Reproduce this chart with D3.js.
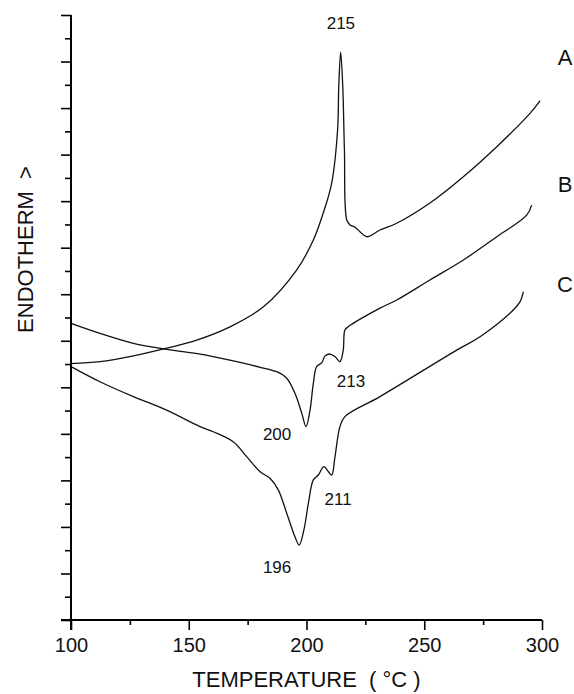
<!DOCTYPE html>
<html>
<head>
<meta charset="utf-8">
<script src="https://cdn.jsdelivr.net/npm/d3@7"></script>
<style>
  body { margin: 0; background: #fff; }
  svg { font-family: "Liberation Sans", Arial, sans-serif; }
</style>
</head>
<body>
<div id="chart"></div>
<script>
// Temperature (deg C) and heat flow (arbitrary units)
var tempA = [100, 112.3, 126.5, 140.6, 153.4, 167.5, 181.7, 195.8, 202.9, 207.1, 210.7, 213.2, 213.7, 214.5, 215.4, 216.1, 217.1, 218.5, 220.6, 222.7, 225.6, 231.2, 238.3, 252.4, 266.6, 280.8, 294.9, 299.2];
var flowA = [11.02, 11.10, 11.35, 11.68, 12.03, 12.60, 13.46, 15.04, 16.33, 17.49, 18.78, 21.06, 22.92, 24.40, 22.92, 20.2, 17.19, 16.98, 16.88, 16.69, 16.47, 16.76, 17.05, 17.92, 19.05, 20.34, 21.77, 22.32];

var tempB = [100, 112.3, 126.5, 140.6, 154.8, 160.4, 170.4, 180.3, 187.3, 191.6, 195.1, 198.0, 199.8, 201.5, 202.9, 204.3, 206.5, 207.9, 210.0, 212.1, 214.2, 215.6, 216.3, 217.7, 231.2, 238.3, 252.4, 266.6, 280.8, 293.5, 295.6];
var flowB = [12.75, 12.32, 11.89, 11.63, 11.43, 11.32, 11.10, 10.86, 10.67, 10.39, 9.74, 8.88, 8.31, 9.02, 10.17, 10.89, 11.06, 11.35, 11.43, 11.32, 11.10, 11.60, 12.46, 12.60, 13.40, 13.75, 14.61, 15.47, 16.47, 17.40, 17.83];

var tempC = [100, 112.3, 126.5, 140.6, 154.8, 160.4, 168.9, 174.6, 180.3, 184.5, 188.0, 191.6, 195.1, 196.9, 198.9, 200.8, 202.9, 205.0, 207.4, 209.3, 210.7, 212.1, 214.2, 216.3, 231.2, 263.8, 273.7, 287.8, 290.7, 292.1];
var flowC = [10.89, 10.24, 9.60, 9.02, 8.31, 8.09, 7.66, 7.02, 6.37, 6.09, 5.59, 4.59, 3.58, 3.22, 3.87, 5.02, 6.02, 6.23, 6.59, 6.37, 6.23, 7.02, 8.31, 8.74, 9.60, 11.60, 12.17, 13.32, 13.68, 14.11];

var curveNames = ["A", "B", "C"];
var curveNameFlow = [23.85, 18.39, 14.10];

// peak annotations: temperature label, and where it sits
var peakLabels = ["215", "213", "200", "211", "196"];
var peakTemp = [214.6, 218.9, 187.5, 213.4, 187.5];
var peakFlow = [25.4, 10.0, 7.75, 4.94, 2.02];

var xTicks = [100, 125, 150, 175, 200, 225, 250, 275, 300];
var xLabels = ["100", "150", "200", "250", "300"];
var yTicks = d3.range(0, 27);

function zip(t, f) {
  return t.map(function (d, i) { return { t: d, f: f[i] }; });
}

function drawChart() {
  var w = 574, h = 694;
  var margin = { top: 15, right: 32, bottom: 74, left: 71 };

  var svg = d3.select("#chart").append("svg")
    .attr("width", w)
    .attr("height", h);

  var x = d3.scaleLinear().domain([100, 300]).range([margin.left, w - margin.right]);
  var y = d3.scaleLinear().domain([0, 26]).range([h - margin.bottom, margin.top]);

  // traces
  var line = d3.line()
    .x(function (d) { return x(d.t); })
    .y(function (d) { return y(d.f); })
    .curve(d3.curveCatmullRom.alpha(0.5));

  [zip(tempA, flowA), zip(tempB, flowB), zip(tempC, flowC)].forEach(function (s) {
    svg.append("path")
      .datum(s)
      .attr("fill", "none")
      .attr("stroke", "#111")
      .attr("stroke-width", 1.3)
      .attr("d", line);
  });

  // y axis: short ticks, every other one longer
  var yAxis = svg.append("g")
    .attr("transform", "translate(" + margin.left + ",0)")
    .call(d3.axisLeft(y).tickValues(yTicks).tickSize(6).tickFormat(""));
  yAxis.selectAll(".tick line")
    .attr("x2", function (d) { return d % 2 === 0 ? -10 : -6; })
    .attr("stroke-width", 1.6);
  yAxis.select(".domain").attr("stroke-width", 2).attr("d", "M0," + (margin.top) + "V" + (h - margin.bottom + 10));

  // x axis
  var xAxis = svg.append("g")
    .attr("transform", "translate(0," + (h - margin.bottom) + ")")
    .call(d3.axisBottom(x).tickValues(xTicks).tickSize(10).tickFormat(function (d) {
      return xLabels.indexOf(String(d)) >= 0 ? d : "";
    }));
  xAxis.selectAll(".tick line")
    .attr("y2", function (d) { return d % 50 === 0 ? 10 : 5; })
    .attr("stroke-width", 1.6);
  xAxis.select(".domain").attr("stroke-width", 2).attr("d", "M" + (margin.left - 10) + ",0H" + (w - margin.right));
  xAxis.selectAll(".tick text")
    .attr("y", 32)
    .attr("dy", 0)
    .style("font-size", "20px")
    .attr("font-family", "Liberation Sans, Arial, sans-serif")
    .attr("fill", "#111");

  svg.append("text")
    .attr("x", (margin.left + w - margin.right) / 2)
    .attr("y", 687)
    .attr("text-anchor", "middle")
    .style("font-size", "22px")
    .attr("fill", "#111")
    .text("TEMPERATURE\u00a0\u00a0(\u00a0°C\u00a0)");

  svg.append("text")
    .attr("transform", "translate(33,249.5) rotate(-90)")
    .attr("text-anchor", "middle")
    .style("font-size", "22px")
    .attr("fill", "#111")
    .text("ENDOTHERM\u00a0\u00a0>");

  // curve names
  svg.selectAll(".cname")
    .data(curveNames)
    .enter().append("text")
    .attr("class", "cname")
    .attr("x", 565)
    .attr("y", function (d, i) { return y(curveNameFlow[i]); })
    .attr("text-anchor", "middle")
    .style("font-size", "22px")
    .attr("fill", "#111")
    .text(function (d) { return d; });

  // peak labels
  svg.selectAll(".plabel")
    .data(peakLabels)
    .enter().append("text")
    .attr("class", "plabel")
    .attr("x", function (d, i) { return x(peakTemp[i]); })
    .attr("y", function (d, i) { return y(peakFlow[i]); })
    .attr("text-anchor", "middle")
    .style("font-size", "17px")
    .attr("fill", "#111")
    .text(function (d) { return d; });
}

drawChart();
</script>
</body>
</html>
